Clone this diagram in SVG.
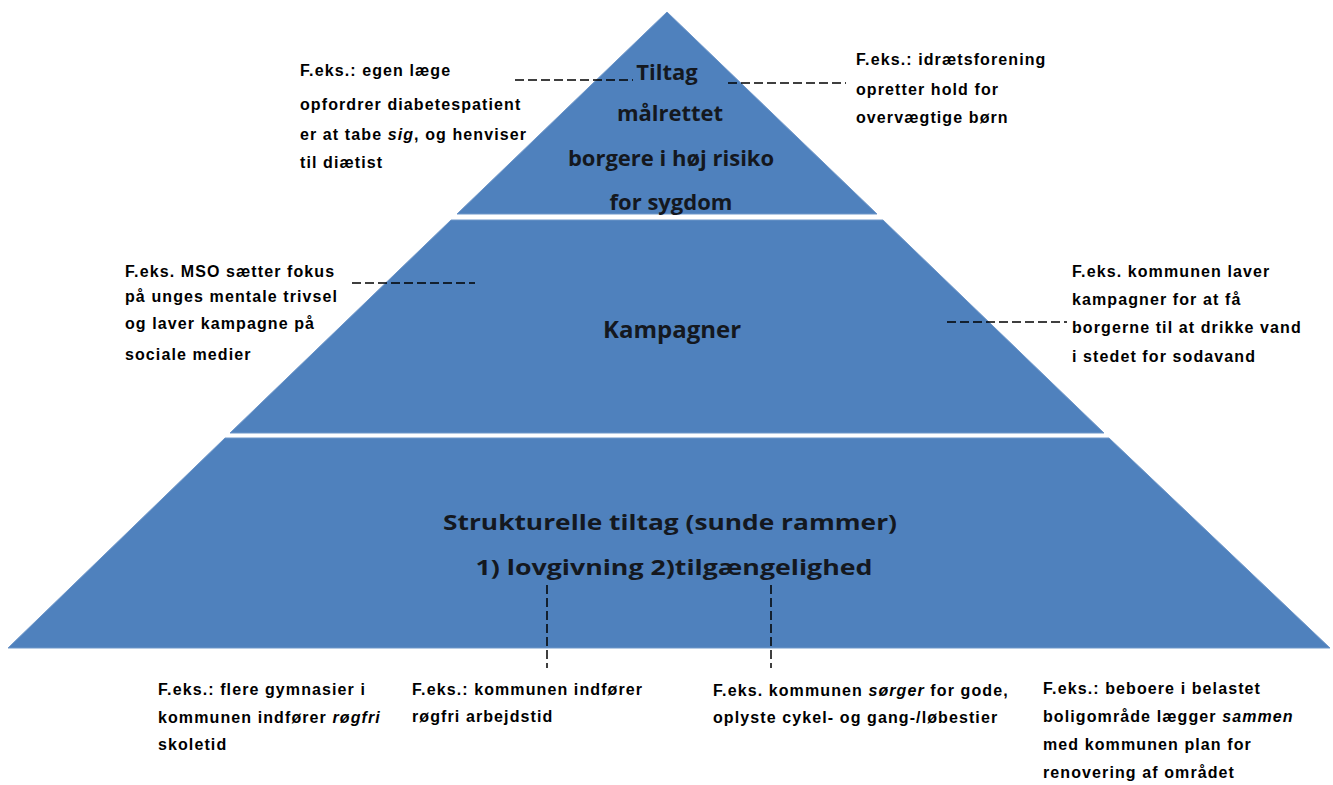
<svg xmlns="http://www.w3.org/2000/svg" width="1333" height="785" viewBox="0 0 1333 785">
  <style>
    .tier { fill: #4f81bd; stroke: #6f97c9; stroke-width: 1; }
    .main { font-family: "Open Sans", "Liberation Sans", sans-serif; font-weight: bold; fill: #14181f; text-anchor: middle; }
    .note { font-family: "Liberation Sans", Arial, sans-serif; font-weight: bold; font-size: 16px; letter-spacing: 1.1px; fill: #000; }
    .dash { stroke: #000; stroke-width: 1.5; stroke-dasharray: 9 4; fill: none; }
  </style>
  <rect width="1333" height="785" fill="#fff"/>

  <!-- top tier -->
  <g id="tier-top">
    <polygon class="tier" points="667,12 877,214 457,214"/>
    <text class="main" font-size="22" x="667" y="80">Tiltag</text>
    <text class="main" font-size="22" x="670" y="121">målrettet</text>
    <text class="main" font-size="22" x="671" y="166">borgere i høj risiko</text>
    <text class="main" font-size="22" x="671" y="210">for sygdom</text>
  </g>

  <!-- middle tier -->
  <g id="tier-middle">
    <polygon class="tier" points="451,220 883,220 1104,433 230,433"/>
    <text class="main" font-size="24" x="672" y="338">Kampagner</text>
  </g>

  <!-- bottom tier -->
  <g id="tier-bottom">
    <polygon class="tier" points="225,438 1109,438 1330,648 8,648"/>
    <text class="main" font-size="22" x="670" y="530" textLength="454" lengthAdjust="spacingAndGlyphs">Strukturelle tiltag (sunde rammer)</text>
    <text class="main" font-size="22" x="674" y="575" textLength="397" lengthAdjust="spacingAndGlyphs">1) lovgivning 2)tilgængelighed</text>
  </g>

  <!-- dashed leader lines -->
  <g id="connectors">
    <line class="dash" x1="515" y1="80" x2="633" y2="80"/>
    <line class="dash" x1="728" y1="83" x2="846" y2="83"/>
    <line class="dash" x1="352" y1="283" x2="475" y2="283"/>
    <line class="dash" x1="947" y1="322" x2="1067" y2="322"/>
    <line class="dash" x1="547" y1="585" x2="547" y2="668"/>
    <line class="dash" x1="771" y1="585" x2="771" y2="668"/>
  </g>

  <!-- example annotations -->
  <g id="note-top-left">
    <text class="note" x="300" y="76">F.eks.: egen læge</text>
    <text class="note" x="300" y="110">opfordrer diabetespatient</text>
    <text class="note" x="300" y="140">er at tabe <tspan font-style="italic">sig</tspan>, og henviser</text>
    <text class="note" x="300" y="168">til diætist</text>
  </g>
  <g id="note-top-right">
    <text class="note" x="856" y="65">F.eks.: idrætsforening</text>
    <text class="note" x="856" y="95">opretter hold for</text>
    <text class="note" x="856" y="123">overvægtige børn</text>
  </g>
  <g id="note-mid-left">
    <text class="note" x="125" y="277">F.eks. MSO sætter fokus</text>
    <text class="note" x="125" y="302">på unges mentale trivsel</text>
    <text class="note" x="125" y="329">og laver kampagne på</text>
    <text class="note" x="125" y="360">sociale medier</text>
  </g>
  <g id="note-mid-right">
    <text class="note" x="1072" y="277">F.eks. kommunen laver</text>
    <text class="note" x="1072" y="305">kampagner for at få</text>
    <text class="note" x="1072" y="333">borgerne til at drikke vand</text>
    <text class="note" x="1072" y="362">i stedet for sodavand</text>
  </g>
  <g id="note-bottom-1">
    <text class="note" x="158" y="695">F.eks.: flere gymnasier i</text>
    <text class="note" x="158" y="723">kommunen indfører <tspan font-style="italic">røgfri</tspan></text>
    <text class="note" x="158" y="750">skoletid</text>
  </g>
  <g id="note-bottom-2">
    <text class="note" x="412" y="695">F.eks.: kommunen indfører</text>
    <text class="note" x="412" y="722">røgfri arbejdstid</text>
  </g>
  <g id="note-bottom-3">
    <text class="note" x="713" y="696">F.eks. kommunen <tspan font-style="italic">sørger</tspan> for gode,</text>
    <text class="note" x="713" y="723">oplyste cykel- og gang-/løbestier</text>
  </g>
  <g id="note-bottom-4">
    <text class="note" x="1043" y="694">F.eks.: beboere i belastet</text>
    <text class="note" x="1043" y="722">boligområde lægger <tspan font-style="italic">sammen</tspan></text>
    <text class="note" x="1043" y="750">med kommunen plan for</text>
    <text class="note" x="1043" y="778">renovering af området</text>
  </g>
</svg>
